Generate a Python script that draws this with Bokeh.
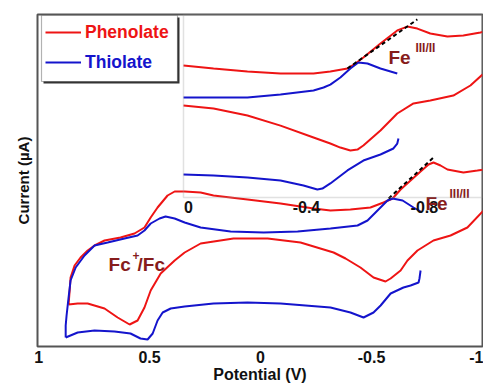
from bokeh.plotting import figure
from bokeh.models import Range1d, FixedTicker, Legend, LegendItem, BoxAnnotation
from bokeh.core.properties import value
from bokeh.embed import file_html
from bokeh.resources import INLINE

NAN = float("nan")

# ---------------- data (main CV) ----------------
main_ticks = [1, 0.5, 0, -0.5, -1]
main_tick_labels = ["1", "0.5", "0", "-0.5", "-1"]

phen_E = [0.865, 0.860, 0.856, 0.838, 0.811, 0.779, 0.748, 0.703, 0.631, 0.568, 0.523, 0.495,
          0.464, 0.419, 0.387, 0.342, 0.270, 0.212, 0.059, -0.090, -0.239, -0.315, -0.405,
          -0.495, -0.554, -0.595, -0.631, -0.676, -0.721, -0.757, -0.779, -0.811, -0.842,
          -0.914, -0.977, -1.036, -1.068,
          -1.068, -1.005, -0.932, -0.856, -0.779, -0.707, -0.662, -0.631, -0.586, -0.563, -0.509,
          -0.450, -0.383, -0.329, -0.180, -0.032, 0.122, 0.270, 0.342, 0.387, 0.450, 0.495,
          0.523, 0.554, 0.590, 0.644, 0.703, 0.779, 0.824, 0.865]
phen_I = [4.2, 5.6, 6.9, 8.1, 8.9, 9.6, 10.1, 10.6, 10.9, 11.3, 11.9, 12.9,
          13.9, 15.1, 15.5, 15.5, 15.4, 15.1, 14.7, 14.3, 13.8, 13.6, 13.7,
          13.9, 14.4, 14.8, 15.7, 16.6, 17.5, 18.2, 18.4, 18.1, 17.7,
          17.4, 17.6, 17.8, 17.8,
          14.9, 13.6, 11.9, 11.1, 10.6, 9.6, 8.6, 7.6, 6.8, 6.5, 6.9,
          7.9, 8.8, 9.4, 10.4, 10.8, 10.8, 10.3, 9.4, 8.6, 7.3, 5.6,
          3.9, 2.6, 2.2, 2.9, 3.8, 4.3, 4.3, 4.2]

thio_fwd_E = [0.878, 0.878, 0.874, 0.865, 0.856, 0.833, 0.793, 0.748, 0.689, 0.613, 0.554, 0.523,
              0.495, 0.455, 0.428, 0.387, 0.342, 0.270, 0.135, -0.014, -0.167, -0.315, -0.437,
              -0.482, -0.527, -0.572, -0.595, -0.640, -0.689, -0.721]
thio_fwd_I = [0.9, 2.1, 3.1, 4.9, 6.6, 7.9, 9.1, 10.1, 10.4, 10.8, 11.1, 11.6,
              12.3, 12.8, 13.0, 12.8, 12.4, 11.9, 11.5, 11.4, 11.5, 11.8, 12.1,
              12.6, 13.6, 14.6, 14.8, 14.6, 13.9, 13.5]
thio_rev_E = [-0.721, -0.716, -0.712, -0.676, -0.644, -0.586, -0.541, -0.509, -0.464, -0.405,
              -0.315, -0.090, 0.059, 0.212, 0.342, 0.405, 0.441, 0.464, 0.486, 0.509, 0.541,
              0.586, 0.658, 0.748, 0.824, 0.878]
thio_rev_I = [7.6, 6.8, 6.4, 6.1, 5.9, 5.3, 4.1, 3.4, 2.9, 3.4,
              3.9, 4.3, 4.4, 4.3, 4.0, 3.8, 3.4, 2.6, 1.3, 0.7, 0.8,
              1.3, 1.5, 1.6, 1.4, 0.9]

tangent_E = [-0.577, -0.779]
tangent_I = [14.8, 18.9]

# ---------------- data (inset, zoom of the Fe(III/II) wave) ----------------
inset_ticks = [0, -0.4, -0.8]
inset_tick_labels = ["0", "-0.4", "-0.8"]

in_phen_fwd_E = [0.017, -0.085, -0.200, -0.312, -0.424, -0.481, -0.539, -0.566, -0.593, -0.651,
                 -0.708, -0.742, -0.776, -0.820, -0.878, -0.932, -0.990, -0.997]
in_phen_fwd_I = [7.21, 7.05, 6.89, 6.78, 6.78, 6.89, 7.05, 7.32, 7.65, 8.42,
                 9.13, 9.34, 9.23, 8.96, 8.80, 8.85, 9.02, 9.05]
in_phen_rev_E = [-0.997, -0.956, -0.898, -0.820, -0.763, -0.708, -0.651, -0.593, -0.573, -0.549,
                 -0.515, -0.481, -0.424, -0.312, -0.200, -0.085, 0.017]
in_phen_rev_I = [6.72, 6.12, 5.57, 5.30, 5.14, 4.59, 3.66, 2.84, 2.62, 2.57,
                 2.73, 2.95, 3.28, 3.93, 4.48, 4.86, 5.03]

in_thio_fwd_E = [0.017, -0.085, -0.200, -0.312, -0.424, -0.458, -0.481, -0.515, -0.549, -0.576,
                 -0.607, -0.651, -0.708]
in_thio_fwd_I = [5.46, 5.46, 5.46, 5.63, 5.85, 6.01, 6.17, 6.56, 7.05, 7.38,
                 7.32, 7.05, 6.78]
in_thio_rev_E = [-0.712, -0.708, -0.695, -0.651, -0.593, -0.539, -0.481, -0.454, -0.437, -0.390,
                 -0.312, -0.200, -0.085, 0.017]
in_thio_rev_I = [3.22, 2.95, 2.68, 2.35, 2.02, 1.48, 0.77, 0.49, 0.44, 0.66,
                 0.93, 1.09, 1.20, 1.26]

in_tangent_E = [-0.539, -0.776]
in_tangent_I = [7.05, 9.73]

# ---------------- styling ----------------
RED = "#ee1414"
BLUE = "#1414cc"
MAROON = "#861c1c"
FONT = "Liberation Sans"

p = figure(width=483, height=385, output_backend="svg", toolbar_location=None,
           x_range=Range1d(1.005, -1.0), y_range=Range1d(0, 33.2),
           min_border_left=37, min_border_top=14, min_border_right=1, min_border_bottom=0,
           x_axis_label="Potential (V)", y_axis_label="Current (\u00b5A)")
p.extra_x_ranges = {"inset": Range1d(0.512, -0.997)}
p.extra_y_ranges = {"inset": Range1d(-8.14, 10.0)}

p.xgrid.visible = False
p.ygrid.visible = False
p.outline_line_color = "#555555"
p.outline_line_width = 2
p.background_fill_color = "white"
p.border_fill_color = "white"

xa = p.xaxis[0]
xa.ticker = FixedTicker(ticks=main_ticks)
xa.major_label_overrides = {(int(t) if t == int(t) else t): s for t, s in zip(main_ticks, main_tick_labels)}
xa.axis_line_color = None
xa.major_tick_line_color = None
xa.minor_tick_line_color = None
xa.major_tick_out = 0
xa.major_tick_in = 0
xa.major_label_standoff = 4
xa.axis_label_standoff = 0
xa.major_label_text_font = FONT
xa.major_label_text_font_style = "bold"
xa.major_label_text_font_size = "16px"
xa.major_label_text_color = "#111111"
xa.axis_label_text_font = FONT
xa.axis_label_text_font_style = "bold"
xa.axis_label_text_font_size = "16px"
xa.axis_label_text_color = "#111111"

ya = p.yaxis[0]
ya.ticker = FixedTicker(ticks=[])
ya.axis_line_color = None
ya.major_tick_line_color = None
ya.minor_tick_line_color = None
ya.major_tick_out = 0
ya.major_tick_in = 0
ya.major_label_standoff = 0
ya.axis_label_standoff = 6
ya.axis_label_text_font = FONT
ya.axis_label_text_font_style = "bold"
ya.axis_label_text_font_size = "15px"
ya.axis_label_text_color = "#111111"

# legend frame with a drop shadow
CANVAS = dict(left_units="canvas", right_units="canvas", top_units="canvas", bottom_units="canvas")
p.add_layout(BoxAnnotation(left=43, right=179, top=17, bottom=83,
                           fill_color="#333333", fill_alpha=1, line_color=None, **CANVAS))
p.add_layout(BoxAnnotation(left=41, right=177, top=15, bottom=81,
                           fill_color="white", fill_alpha=1, line_color="black", line_width=1.2,
                           **CANVAS))

# main curves
r_phen = p.line(phen_E, phen_I, line_color=RED, line_width=2)
thio_E = thio_fwd_E + [NAN] + thio_rev_E
thio_I = thio_fwd_I + [NAN] + thio_rev_I
r_thio = p.line(thio_E, thio_I, line_color=BLUE, line_width=2)
p.line(tangent_E, tangent_I, line_color="black", line_width=2, line_dash="4 3")

# inset curves
IN = dict(x_range_name="inset", y_range_name="inset")
p.line(in_phen_fwd_E + [NAN] + in_phen_rev_E, in_phen_fwd_I + [NAN] + in_phen_rev_I,
       line_color=RED, line_width=2, **IN)
p.line(in_thio_fwd_E + [NAN] + in_thio_rev_E, in_thio_fwd_I + [NAN] + in_thio_rev_I,
       line_color=BLUE, line_width=2, **IN)
p.line(in_tangent_E, in_tangent_I, line_color="black", line_width=2, line_dash="4 3", **IN)

inset_left, inset_right = 0.017, -0.997
inset_bottom, inset_top = 0.0, 10.0
p.add_layout(BoxAnnotation(left=inset_left, right=inset_right, bottom=inset_bottom, top=inset_top,
                           fill_alpha=0, line_color="#9a9a9a", line_width=1.5, **IN))

p.text(x=inset_ticks, y=[inset_bottom] * len(inset_ticks), text=inset_tick_labels,
       text_align="center", text_baseline="top", y_offset=3,
       text_font=value(FONT), text_font_style="bold", text_font_size="16px",
       text_color="#111111", **IN)

# annotations
def label(x, y, txt, size, dx=0, dy=0, style="bold", **kw):
    p.text(x=[x], y=[y], text=[txt], text_align="left", text_baseline="alphabetic",
           x_offset=dx, y_offset=dy, text_font=value(FONT), text_font_style=style,
           text_font_size=size, text_color=MAROON, **kw)

label(0.685, 8.2, "Fc", "19px")
label(0.685, 8.2, "+", "12px", dx=24, dy=-9)
label(0.685, 8.2, "/Fc", "19px", dx=29)

label(-0.743, 14.3, "Fe", "19px")
label(-0.743, 14.3, "III/II", "12px", dx=24, dy=-10)

label(-0.678, 7.65, "Fe", "19px", **IN)
label(-0.678, 7.65, "III/II", "12px", dx=27, dy=-10, **IN)

# legend entries (coloured labels), placed inside the frame drawn above
def mk_legend(item, loc, color):
    lg = Legend(items=[item], location=loc, orientation="vertical", glyph_width=36, glyph_height=24,
                label_height=24, label_standoff=4, spacing=0, padding=5, margin=0,
                label_text_font=FONT, label_text_font_style="bold", label_text_font_size="17.5px",
                label_text_color=color, background_fill_alpha=0, border_line_color=None)
    p.add_layout(lg)
    return lg

mk_legend(LegendItem(label="Phenolate", renderers=[r_phen]), (8, 302), RED)
mk_legend(LegendItem(label="Thiolate", renderers=[r_thio]), (8, 272), BLUE)

open("out.html", "w").write(file_html(p, INLINE))
